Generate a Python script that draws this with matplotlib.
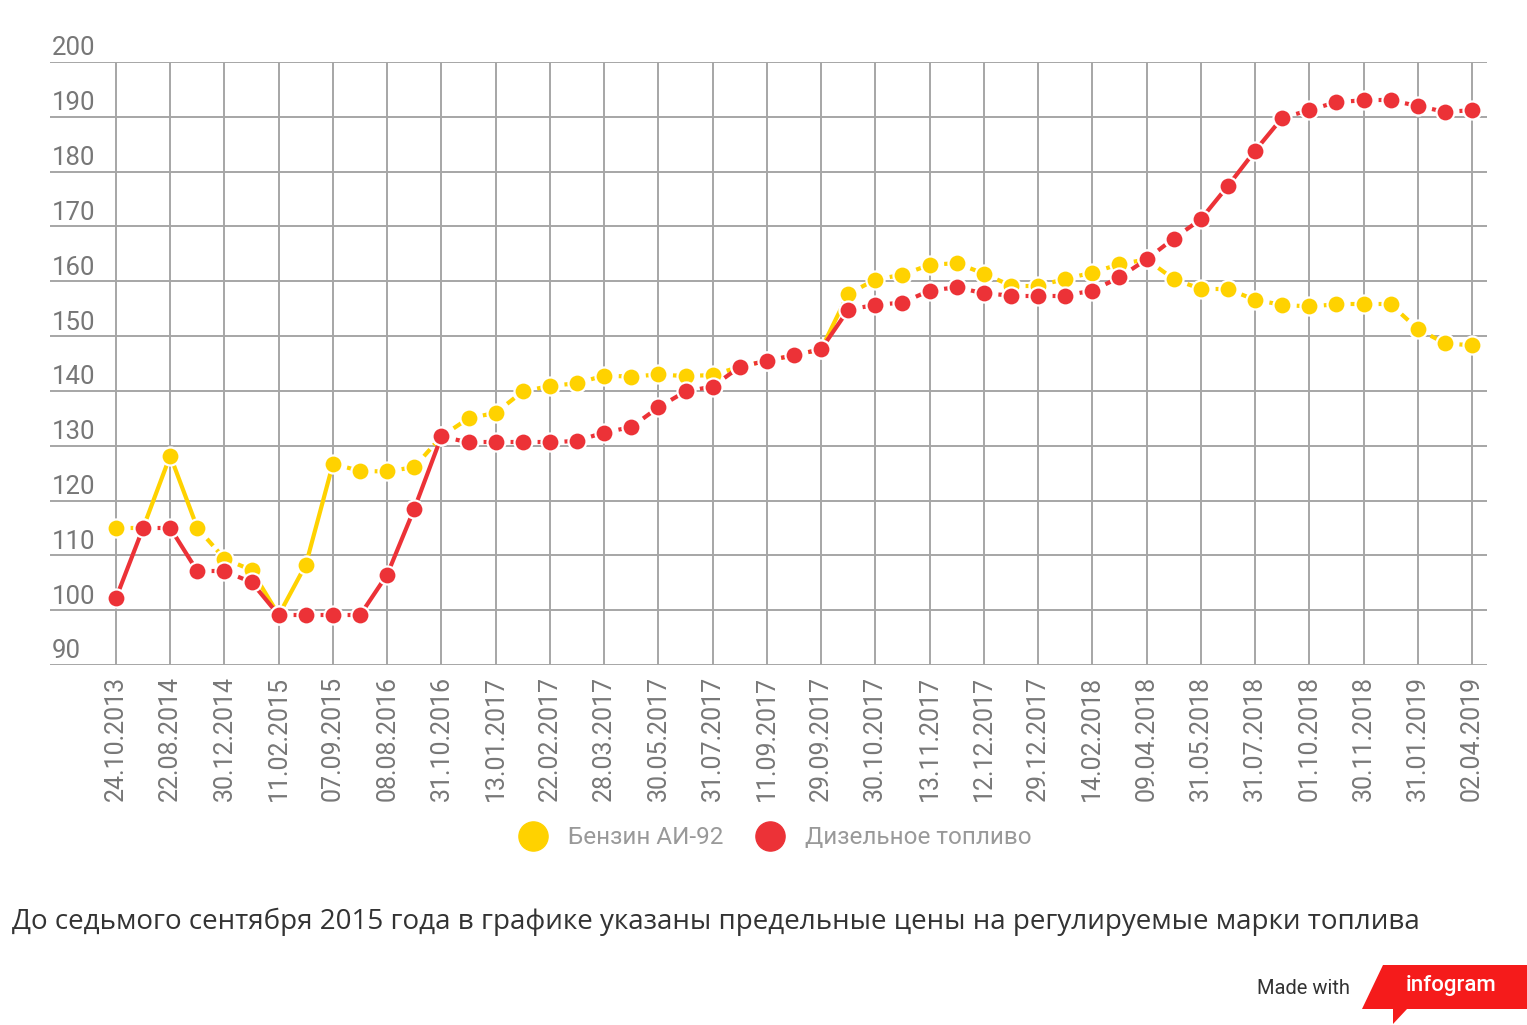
import matplotlib
matplotlib.use("Agg")
import matplotlib.pyplot as plt
from matplotlib.lines import Line2D
from matplotlib.patches import Polygon

date_labels = [
    "24.10.2013", "22.08.2014", "30.12.2014", "11.02.2015", "07.09.2015",
    "08.08.2016", "31.10.2016", "13.01.2017", "22.02.2017", "28.03.2017",
    "30.05.2017", "31.07.2017", "11.09.2017", "29.09.2017", "30.10.2017",
    "13.11.2017", "12.12.2017", "29.12.2017", "14.02.2018", "09.04.2018",
    "31.05.2018", "31.07.2018", "01.10.2018", "30.11.2018", "31.01.2019",
    "02.04.2019",
]

petrol = [
    115.0, 115.0, 128.2, 115.0, 109.4, 107.3, 99.1, 108.3, 126.7, 125.4,
    125.3, 126.1, 131.7, 135.0, 136.0, 139.9, 140.9, 141.4, 142.8, 142.6,
    143.0, 142.7, 142.9, 144.4, 145.5, 146.5, 147.6, 157.7, 160.3, 161.2,
    163.0, 163.3, 161.4, 159.2, 159.2, 160.4, 161.6, 163.1, 164.0, 160.4,
    158.6, 158.6, 156.6, 155.7, 155.4, 155.8, 155.8, 155.8, 151.3, 148.7,
    148.3,
]

diesel = [
    102.2, 115.0, 115.0, 107.1, 107.1, 105.1, 99.1, 99.1, 99.1, 99.1,
    106.5, 118.5, 131.7, 130.6, 130.6, 130.6, 130.6, 130.9, 132.4, 133.4,
    137.0, 139.9, 140.8, 144.4, 145.5, 146.5, 147.6, 154.8, 155.7, 156.1,
    158.3, 158.9, 157.8, 157.4, 157.4, 157.4, 158.3, 160.7, 164.0, 167.8,
    171.3, 177.4, 183.8, 189.8, 191.2, 192.7, 193.0, 193.0, 192.0, 190.9,
    191.2,
]

y_ticks = list(range(90, 201, 10))
series_names = ["Бензин АИ-92", "Дизельное топливо"]

yellow = "#FFD200"
red = "#EC3237"
grid_col = "#A6A6A6"
cond = ["Roboto", "DejaVu Sans"]

fig = plt.figure(figsize=(15.27, 10.25), dpi=100)
ax = fig.add_axes([50 / 1527, 1 - 665 / 1025, 1437 / 1527, 603 / 1025])

x = list(range(len(petrol)))


def draw_series(values, color, z):
    for i in range(len(values) - 1):
        dy = abs(values[i + 1] - values[i])
        style = "-" if dy >= 5.9 else (0, (2.2, 1.3))
        ax.plot(x[i:i + 2], values[i:i + 2], color=color, lw=3,
                linestyle=style, solid_capstyle="butt", zorder=z)
    ax.plot(x, values, linestyle="none", marker="o", ms=13, mfc=color,
            mec="white", mew=1.6, zorder=z + 0.5)


draw_series(petrol, yellow, 3)
draw_series(diesel, red, 4)

ax.set_xlim(-66 / 27.12, 50 + 15 / 27.12)
ax.set_ylim(90, 200)
ax.set_xticks(x[::2])
ax.set_xticklabels(date_labels, rotation=90, color="#777777", fontsize=18,
                   family=cond)
ax.set_yticks(y_ticks)
ax.set_yticklabels([])
ax.tick_params(length=0, axis="x", pad=8)
ax.tick_params(length=0, axis="y")
ax.grid(True, color=grid_col, lw=1.4)
ax.set_axisbelow(True)
for s in ax.spines.values():
    s.set_visible(False)

for v in y_ticks:
    ax.text(0.0015, v + 1.2, str(v), transform=ax.get_yaxis_transform(),
            ha="left", va="baseline", fontsize=18.5, color="#777777",
            family=cond)

handles = [
    Line2D([], [], linestyle="none", marker="o", ms=21, mfc=yellow, mec=yellow),
    Line2D([], [], linestyle="none", marker="o", ms=21, mfc=red, mec=red),
]
leg = fig.legend(handles, series_names, loc="center", ncol=2,
                 bbox_to_anchor=(770 / 1527, 1 - 838 / 1025), frameon=False,
                 handletextpad=0.45, columnspacing=0.9,
                 prop={"family": cond, "size": 17.5})
for t in leg.get_texts():
    t.set_color("#999999")

fig.text(12 / 1527, 1 - 922 / 1025,
         "До седьмого сентября 2015 года в графике указаны предельные цены "
         "на регулируемые марки топлива",
         ha="left", va="center", fontsize=20, color="#333333",
         family=["Open Sans", "DejaVu Sans"])

fig.text(1350 / 1527, 1 - 988 / 1025, "Made with", ha="right", va="center",
         fontsize=14.5, color="#333333", family=["Roboto", "DejaVu Sans"])
banner = [(1383, 965), (1527, 965), (1527, 1009), (1407, 1009), (1393, 1024),
          (1393, 1009), (1362, 1009)]
fig.add_artist(Polygon([(px / 1527, 1 - py / 1025) for px, py in banner],
                       closed=True, transform=fig.transFigure,
                       facecolor="#F51B1B", edgecolor="none"))
fig.text(1451 / 1527, 1 - 986 / 1025, "infogram", ha="center", va="center",
         fontsize=16, color="white", fontweight="medium",
         family=cond)

fig.savefig("out.png", dpi=100)
